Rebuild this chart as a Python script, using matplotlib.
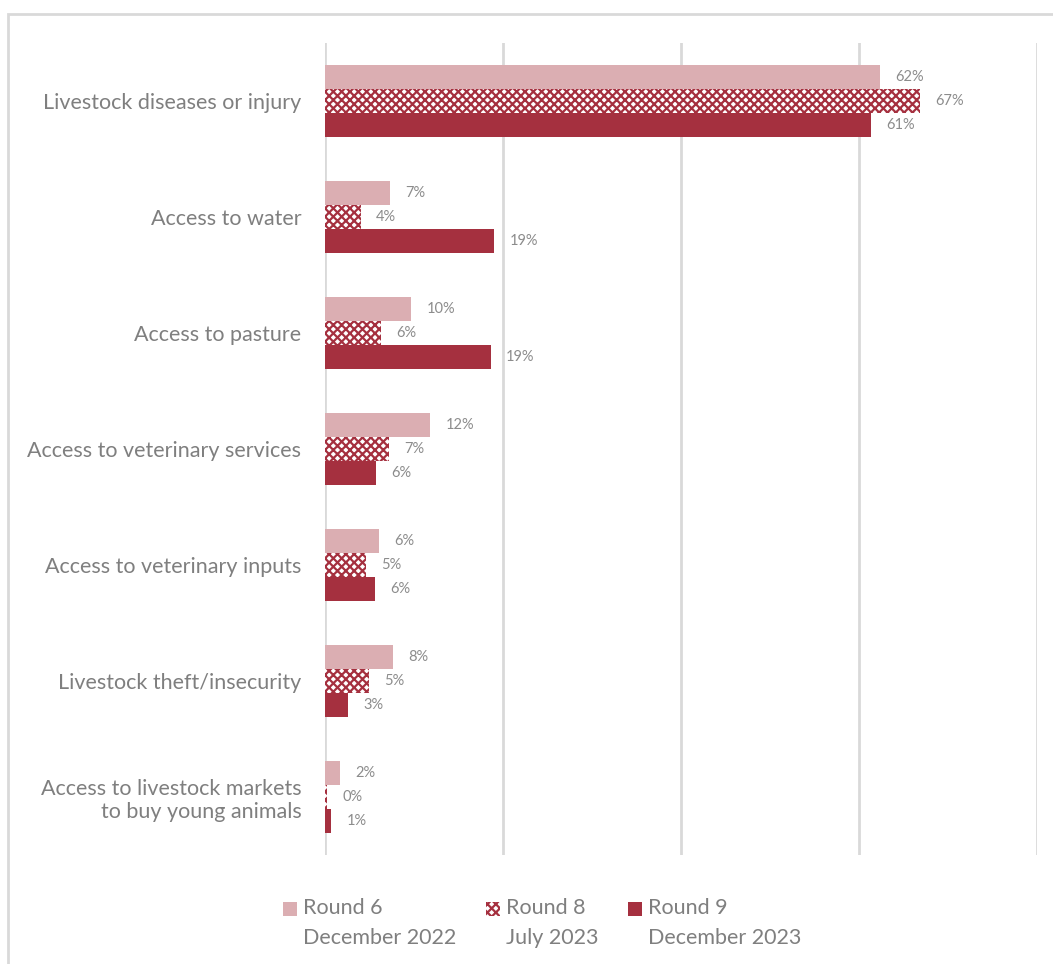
import numpy as np
import matplotlib.pyplot as plt
from matplotlib.patches import Rectangle

categories = [
    "Livestock diseases or injury",
    "Access to water",
    "Access to pasture",
    "Access to veterinary services",
    "Access to veterinary inputs",
    "Livestock theft/insecurity",
    "Access to livestock markets\nto buy young animals",
]
round6 = [62.4, 7.3, 9.7, 11.8, 6.1, 7.6, 1.7]
round8 = [66.9, 4.0, 6.3, 7.2, 4.6, 4.9, 0.2]
round9 = [61.4, 19.0, 18.6, 5.7, 5.6, 2.6, 0.7]
series_names = ["Round 6", "Round 8", "Round 9"]
series_dates = ["December 2022", "July 2023", "December 2023"]

light = "#dbaeb2"
dark = "#a5303f"
text_gray = "#7f7f7f"
grid_gray = "#d9d9d9"

plt.rcParams['font.family'] = ['Lato', 'DejaVu Sans']
plt.rcParams['hatch.linewidth'] = 1.6
plt.rcParams['hatch.color'] = dark

fig = plt.figure(figsize=(10.53, 9.64), dpi=100)
W, H = 1053, 964
ax = fig.add_axes([325 / W, 1 - 855 / H, (1037 - 325) / W, (855 - 43) / H])

# outer frame of the chart area
fig.patches.append(Rectangle((8 / W, -0.1), 1.2, 1 - 14 / H + 0.1,
                             transform=fig.transFigure, fill=False,
                             edgecolor=grid_gray, linewidth=2))

y = np.arange(len(categories))
h = 24 / 116
b6 = ax.barh(y - h, round6, height=h, color=light, zorder=3)
b8 = ax.barh(y, round8, height=h, facecolor="white", edgecolor=dark, hatch="xxxx",
             linewidth=0, zorder=3)
b9 = ax.barh(y + h, round9, height=h, color=dark, zorder=3)

for bars, vals in [(b6, round6), (b8, round8), (b9, round9)]:
    for bar, v in zip(bars, vals):
        ax.annotate(f"{v:.0f}%", (bar.get_width(), bar.get_y() + bar.get_height() / 2),
                    xytext=(11, 0), textcoords="offset points", va="center", ha="left",
                    fontsize=10.5, color="#8c8c8c")

ax.set_xlim(0, 80)
ax.set_ylim(len(categories) - 0.5, -0.5)
ax.set_xticks([0, 20, 40, 60, 80])
ax.set_xticklabels([])
ax.grid(axis="x", color=grid_gray, linewidth=2, zorder=0)
ax.set_yticks(y)
ax.set_yticklabels(categories, fontsize=15.5, color=text_gray, ha="right")
ax.tick_params(axis="both", length=0, pad=17)
for s in ax.spines.values():
    s.set_visible(False)

labels = [f"{n}\n{d}" for n, d in zip(series_names, series_dates)]
leg = fig.legend(handles=[b6, b8, b9], labels=labels, ncol=3, frameon=False,
                 loc="upper left", bbox_to_anchor=(283 / W, 1 - 898 / H),
                 borderaxespad=0, borderpad=0,
                 fontsize=15.5, labelcolor=text_gray, handlelength=0.65, handleheight=0.65,
                 handletextpad=0.28, columnspacing=1.38)
for t in leg.get_texts():
    t.set_linespacing(1.6)

# legend boxes sit next to the first line ("Round N"), not the date line
fig.canvas.draw()
one = fig.text(0, 0, "Round 6", fontsize=15.5)
h1 = one.get_window_extent().height
one.remove()
for t, p in zip(leg.get_texts(), leg.legend_handles):
    bb = t.get_window_extent()
    pb = p.get_window_extent()
    target = bb.y1 - h1 * 0.55
    delta = target - (pb.y0 + pb.y1) / 2
    p.set_y(p.get_y() + delta * 72 / fig.dpi)

fig.savefig("out.png", dpi=100)
